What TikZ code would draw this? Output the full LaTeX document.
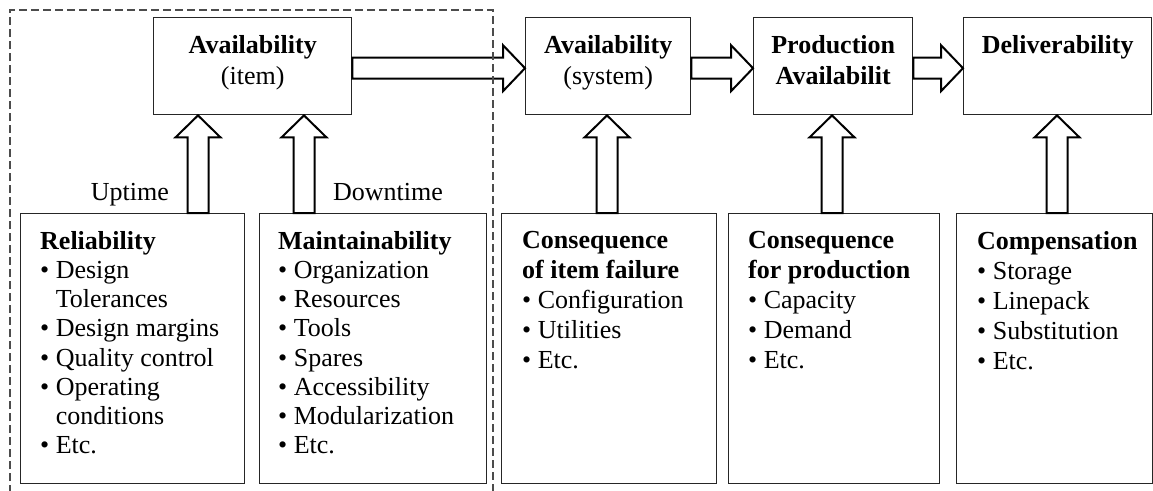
\documentclass[tikz,border=0pt]{standalone}
\usepackage{fontspec}
\setmainfont{Liberation Serif}
\usetikzlibrary{positioning,calc}

\newcommand{\itm}{\textbullet\ }
\newcommand{\bpad}{\phantom{\textbullet\ }}

\tikzset{
  box/.style={draw=black!85, line width=1.4pt, inner sep=0pt, anchor=north west},
  txt/.style={align=left, inner sep=0pt, anchor=north west, font=\fontsize{26}{30}\selectfont},
  ttl/.style={align=center, inner sep=0pt, anchor=north, font=\fontsize{26}{31}\selectfont},
  lbl/.style={inner sep=0pt, font=\fontsize{26}{30}\selectfont},
  blk/.style={draw=black, line width=2pt, fill=white, line join=miter},
  grp/.style={draw=black!70, line width=1.2pt, dash pattern=on 8pt off 4pt}
}

% block arrow going up: x, lower node, upper node
\newcommand{\vblock}[3]{%
  \coordinate (vx) at (#1,0);
  \draw[blk] ($(vx |- #2.north)+(-10.5,0)$) |- ($(vx |- #3.south)+(-22.5,22)$) -- (vx |- #3.south)
    -- ($(vx |- #3.south)+(22.5,22)$) -| ($(vx |- #2.north)+(10.5,0)$) -- cycle;}
% block arrow going right: left node, right node
\newcommand{\hblock}[2]{%
  \coordinate (hs) at ($(#1.east)+(0,2)$);
  \coordinate (ht) at (#2.west |- hs);
  \draw[blk] ($(hs)+(0,-10.5)$) -- ($(ht)+(-22,-10.5)$) -- ($(ht)+(-22,-23)$) -- (ht)
    -- ($(ht)+(-22,23)$) -- ($(ht)+(-22,10.5)$) -- ($(hs)+(0,10.5)$) -- cycle;}

\begin{document}
\begin{tikzpicture}[x=1pt, y=-1pt]
  \useasboundingbox (0,0) rectangle (1153,490);
  \node[box, minimum width=198pt, minimum height=97pt] (item) at (153,17) {};
  \node[box, minimum width=165pt, minimum height=97pt] (sys) at (525,17) {};
  \node[box, minimum width=159pt, minimum height=97pt] (prod) at (753,17) {};
  \node[box, minimum width=188pt, minimum height=97pt] (deliv) at (963,17) {};
  \node[ttl] (itemt) at ($(item.north)+(0,18)$) {\textbf{Availability}\\(item)};
  \node[ttl] (syst) at ($(sys.north)+(0,18)$) {\textbf{Availability}\\(system)};
  \node[ttl] (prodt) at ($(prod.north)+(0,18)$) {\textbf{Production}\\\textbf{Availabilit}};
  \node[ttl] (delivt) at ($(deliv.north)+(0,18)$) {\textbf{Deliverability}};

  \node[box, minimum width=224pt, minimum height=270pt] (rel) at (20,213) {};
  \node[box, minimum width=227pt, minimum height=270pt] (mnt) at (259,213) {};
  \node[box, minimum width=215pt, minimum height=270pt] (cif) at (501,213) {};
  \node[box, minimum width=211pt, minimum height=270pt] (cfp) at (728,213) {};
  \node[box, minimum width=196pt, minimum height=270pt] (cmp) at (956,213) {};
  \node[txt, font=\fontsize{26}{29.2}\selectfont] (relt) at ($(rel.north west)+(20,18)$)
    {\textbf{Reliability}\\ \itm Design\\ \bpad Tolerances\\ \itm Design margins\\ \itm Quality control\\ \itm Operating\\ \bpad conditions\\ \itm Etc.};
  \node[txt, font=\fontsize{26}{29.2}\selectfont] (mntt) at ($(mnt.north west)+(19,18)$)
    {\textbf{Maintainability}\\ \itm Organization\\ \itm Resources\\ \itm Tools\\ \itm Spares\\ \itm Accessibility\\ \itm Modularization\\ \itm Etc.};
  \node[txt] (cift) at ($(cif.north west)+(21,18)$)
    {\textbf{Consequence}\\ \textbf{of item failure}\\ \itm Configuration\\ \itm Utilities\\ \itm Etc.};
  \node[txt] (cfpt) at ($(cfp.north west)+(20,18)$)
    {\textbf{Consequence}\\ \textbf{for production}\\ \itm Capacity\\ \itm Demand\\ \itm Etc.};
  \node[txt] (cmpt) at ($(cmp.north west)+(21,18)$)
    {\textbf{Compensation}\\ \itm Storage\\ \itm Linepack\\ \itm Substitution\\ \itm Etc.};

  \vblock{198}{rel}{item}
  \vblock{304}{mnt}{item}
  \vblock{607}{cif}{sys}
  \vblock{832}{cfp}{prod}
  \vblock{1057}{cmp}{deliv}
  \hblock{item}{sys}
  \hblock{sys}{prod}
  \hblock{prod}{deliv}

  \node[lbl, anchor=base east] (upt) at (169,200) {Uptime};
  \node[lbl, anchor=base west] (dnt) at (333,200) {Downtime};

  \draw[grp] (10,493) |- (493,10) -- (493,493);
\end{tikzpicture}
\end{document}
